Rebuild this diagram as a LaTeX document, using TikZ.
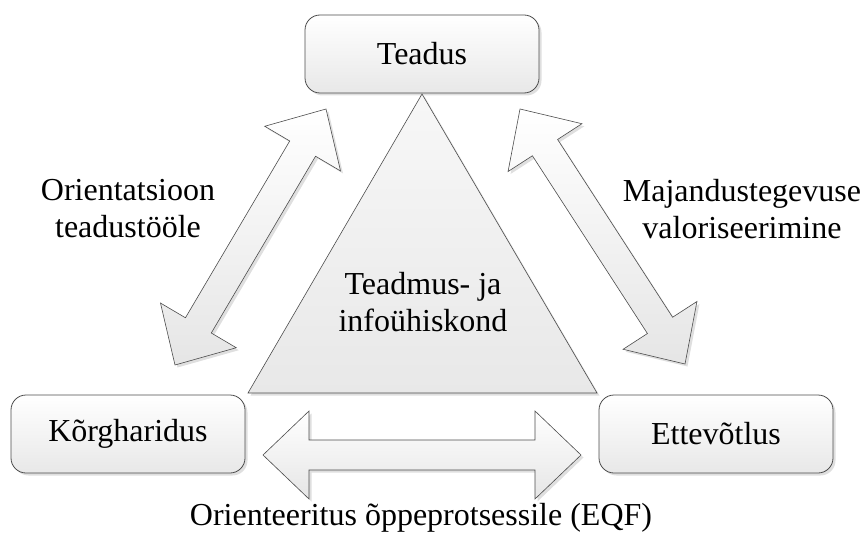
\documentclass[tikz,border=0pt]{standalone}
\usepackage{fontspec}
\setmainfont{Liberation Serif}
\usetikzlibrary{calc,shadows}
\newcommand\blockarr[2]{%
 \draw[blockarrow] (#1) -- ($(#1)!46pt!(#2)!44pt!90:(#2)$) -- ($(#1)!46pt!(#2)!15pt!90:(#2)$)
  -- ($(#2)!46pt!(#1)!15pt!-90:(#1)$) -- ($(#2)!46pt!(#1)!44pt!-90:(#1)$) -- (#2)
  -- ($(#2)!46pt!(#1)!44pt!90:(#1)$) -- ($(#2)!46pt!(#1)!15pt!90:(#1)$)
  -- ($(#1)!46pt!(#2)!15pt!-90:(#2)$) -- ($(#1)!46pt!(#2)!44pt!-90:(#2)$) -- cycle;}
\begin{document}
\begin{tikzpicture}[x=1pt,y=-1pt,
  shad/.style={drop shadow={shadow xshift=2.5pt, shadow yshift=-2.5pt, opacity=0.25, fill=black!50}},
  box/.style={draw=black!70, line width=0.8pt, rounded corners=15pt, minimum width=234pt,
    minimum height=78pt, top color=white, bottom color=black!9, shad,
    font=\fontsize{32}{37}\selectfont},
  lbl/.style={align=center, font=\fontsize{32}{37}\selectfont},
  blockarrow/.style={draw=black!70, line width=0.6pt, top color=white, bottom color=black!10, shad},
  tri/.style={draw=black!70, line width=0.6pt, top color=black!3, bottom color=black!9, shad}
]
\useasboundingbox (0,0) rectangle (864,540);
% triangle
\coordinate (apex) at (422,94);
\coordinate (bl) at (248,393);
\coordinate (br) at (597,393);
\draw[tri] (apex) -- (br) -- (bl) -- cycle;
\node[lbl] (center) at (423,302) {Teadmus- ja\\infoühiskond};
% boxes
\node[box] (teadus) at (422,54) {Teadus};
\node[box] (korg) at (128,434) {Kõrgharidus};
\node[box] (ette) at (716,434) {Ettevõtlus};
% arrows
\coordinate (l1) at (175,365); \coordinate (l2) at (326,109);
\coordinate (r1) at (520,109); \coordinate (r2) at (685,364);
\coordinate (h1) at (263,455); \coordinate (h2) at (581,455);
\blockarr{l1}{l2}
\blockarr{r1}{r2}
\blockarr{h1}{h2}
% labels
\node[lbl] (lleft) at (128,209) {Orientatsioon\\teadustööle};
\node[lbl] (lright) at (742,209) {Majandustegevuse\\valoriseerimine};
\node[lbl] (lbottom) at (421,518) {Orienteeritus õppeprotsessile (EQF)};
\end{tikzpicture}
\end{document}
